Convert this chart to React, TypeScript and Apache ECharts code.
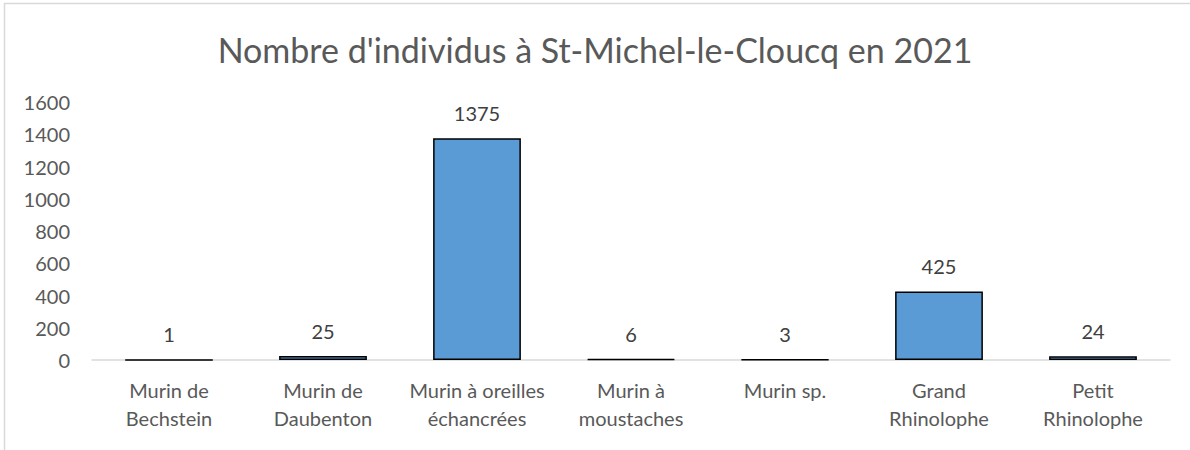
import React, { useEffect, useRef } from "react";
import * as echarts from "echarts";

const title = "Nombre d'individus à St-Michel-le-Cloucq en 2021";
const categories = [
  "Murin de\nBechstein",
  "Murin de\nDaubenton",
  "Murin à oreilles\néchancrées",
  "Murin à\nmoustaches",
  "Murin sp.",
  "Grand\nRhinolophe",
  "Petit\nRhinolophe",
];
const values = [1, 25, 1375, 6, 3, 425, 24];

const FONT = "Lato, 'Open Sans', sans-serif";

export default function App() {
  const ref = useRef<HTMLDivElement>(null);
  useEffect(() => {
    if (!ref.current) return;
    const chart = echarts.init(ref.current, undefined, { renderer: "svg" });
    chart.setOption({
      animation: false,
      backgroundColor: "#ffffff",
      title: {
        text: title,
        left: "center",
        top: 27,
        textStyle: { fontFamily: FONT, fontSize: 34, fontWeight: "normal", color: "#595959" },
      },
      graphic: [
        {
          type: "rect",
          shape: { x: 4.5, y: 3.5, width: 1400, height: 700 },
          style: { fill: "none", stroke: "#d9d9d9", lineWidth: 1.5 },
          silent: true,
        },
      ],
      grid: { left: 92, right: 20, top: 102, bottom: 90, containLabel: false },
      xAxis: {
        type: "category",
        data: categories,
        axisLine: { lineStyle: { color: "#d9d9d9", width: 1.5 } },
        axisTick: { show: false },
        axisLabel: {
          fontFamily: FONT,
          fontSize: 20,
          color: "#595959",
          lineHeight: 28,
          margin: 16,
          interval: 0,
        },
      },
      yAxis: {
        type: "value",
        min: 0,
        max: 1600,
        interval: 200,
        splitLine: { show: false },
        axisLine: { show: false },
        axisTick: { show: false },
        axisLabel: {
          fontFamily: FONT,
          fontSize: 20,
          color: "#595959",
          margin: 22,
          formatter: (v: number) => String(v),
        },
      },
      series: [
        {
          type: "bar",
          data: values,
          barWidth: "57%",
          itemStyle: { color: "#5b9bd5", borderColor: "#000000", borderWidth: 1.5 },
          label: {
            show: true,
            position: "top",
            distance: 15,
            fontFamily: FONT,
            fontSize: 20,
            color: "#404040",
          },
        },
      ],
    });
    return () => chart.dispose();
  }, []);
  return (
    <div
      ref={ref}
      style={{ position: "absolute", left: 0, top: 0, width: 1190, height: 450 }}
    />
  );
}
